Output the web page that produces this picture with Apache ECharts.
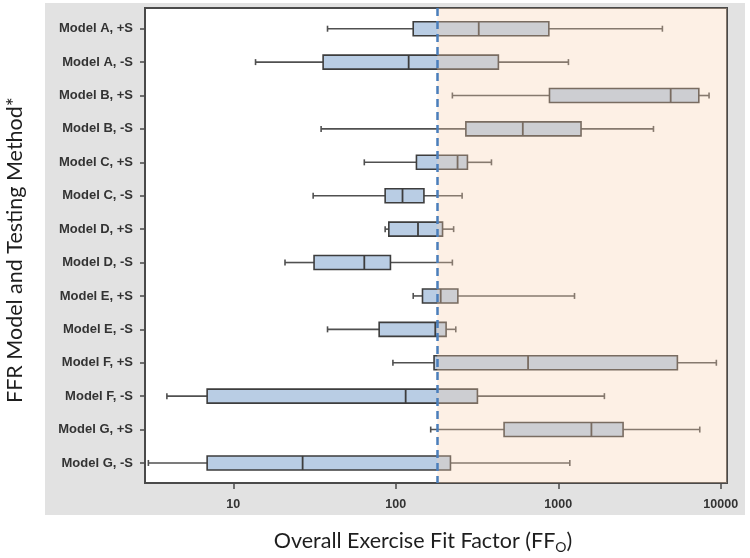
<!DOCTYPE html>
<html>
<head>
<meta charset="utf-8">
<script src="https://cdn.jsdelivr.net/npm/echarts@6/dist/echarts.min.js"></script>
<style>
  html, body { margin: 0; padding: 0; background: #ffffff; }
  #chart { width: 750px; height: 558px; }
</style>
</head>
<body>
<div id="chart"></div>
<script>
// ---- Data ----
const categories = [
  'Model A, +S', 'Model A, -S', 'Model B, +S', 'Model B, -S',
  'Model C, +S', 'Model C, -S', 'Model D, +S', 'Model D, -S',
  'Model E, +S', 'Model E, -S', 'Model F, +S', 'Model F, -S',
  'Model G, +S', 'Model G, -S'
];
const whiskerLow  = [38, 13.7, 223, 34.7, 64, 31, 86, 20.8, 128, 38, 96, 3.9, 164, 3.0];
const q1Values    = [128, 35.7, 883, 270, 134, 86, 90.6, 31.4, 146, 79, 172, 6.9, 464, 6.9];
const medianVals  = [324, 120, 4920, 605, 240, 110, 137, 64, 189, 175, 652, 115, 1600, 26.7];
const q3Values    = [875, 428, 7330, 1381, 276, 149, 194, 92.7, 241, 204, 5410, 318, 2506, 217];
const whiskerHigh = [4375, 1155, 8475, 3855, 388, 256, 227, 223, 1259, 234, 9400, 1923, 7430, 1178];
const xTickValues = [10, 100, 1000, 10000];
const threshold = 180;
const xMin = 2.86;
const xMax = 10930;

const boxData = categories.map((c, i) => [i, whiskerLow[i], q1Values[i], medianVals[i], q3Values[i], whiskerHigh[i]]);
const rowIndices = categories.map((c, i) => i);

const BOX_H = 14;
const CAP_H = 6;
const boxFill = '#b9cde4';
const boxStroke = '#3d3d3d';
const whiskerStroke = '#505050';

function renderBox(params, api) {
  const y = api.value(0);
  const pLow = api.coord([api.value(1), y]);
  const pQ1 = api.coord([api.value(2), y]);
  const pMed = api.coord([api.value(3), y]);
  const pQ3 = api.coord([api.value(4), y]);
  const pHigh = api.coord([api.value(5), y]);
  const cy = pQ1[1];
  const lw = { stroke: whiskerStroke, lineWidth: 1.6 };
  return {
    type: 'group',
    children: [
      { type: 'line', shape: { x1: pLow[0], y1: cy, x2: pQ1[0], y2: cy }, style: lw },
      { type: 'line', shape: { x1: pQ3[0], y1: cy, x2: pHigh[0], y2: cy }, style: lw },
      { type: 'line', shape: { x1: pLow[0], y1: cy - CAP_H / 2, x2: pLow[0], y2: cy + CAP_H / 2 }, style: lw },
      { type: 'line', shape: { x1: pHigh[0], y1: cy - CAP_H / 2, x2: pHigh[0], y2: cy + CAP_H / 2 }, style: lw },
      { type: 'rect', shape: { x: pQ1[0], y: cy - BOX_H / 2, width: pQ3[0] - pQ1[0], height: BOX_H },
        style: { fill: boxFill, stroke: boxStroke, lineWidth: 1.6 } },
      { type: 'line', shape: { x1: pMed[0], y1: cy - BOX_H / 2, x2: pMed[0], y2: cy + BOX_H / 2 },
        style: { stroke: boxStroke, lineWidth: 1.8 } }
    ]
  };
}

const chart = echarts.init(document.getElementById('chart'), null, { renderer: 'canvas' });
chart.setOption({
  animation: false,
  backgroundColor: '#ffffff',
  graphic: [
    { type: 'rect', z: -100, silent: true, shape: { x: 45, y: 3, width: 700, height: 512 }, style: { fill: '#e2e2e2' } },
    { type: 'text', silent: true, x: 15, y: 250, rotation: Math.PI / 2,
      style: { text: 'FFR Model and Testing Method*', fill: '#1e1e1e', font: '21.5px Lato', align: 'center', verticalAlign: 'middle' } },
    { type: 'text', silent: true, x: 423, y: 541,
      style: { text: '{a|Overall Exercise Fit Factor (FF}{s|O}{a|)}', align: 'center', verticalAlign: 'middle',
        rich: {
          a: { font: '21.5px Lato', fill: '#1e1e1e', color: '#1e1e1e', lineHeight: 26 },
          s: { font: '14px Lato', fill: '#1e1e1e', color: '#1e1e1e', lineHeight: 26, padding: [12, 0, 0, 0] }
        } } }
  ],
  grid: {
    left: 145, right: 23, top: 8, bottom: 75,
    show: true, backgroundColor: '#ffffff', borderColor: '#4a4a4a', borderWidth: 2
  },
  xAxis: {
    type: 'log', logBase: 10, min: xMin, max: xMax,
    splitLine: { show: false },
    axisLine: { show: false, onZero: false },
    axisTick: { show: true, length: 6, customValues: xTickValues, lineStyle: { color: '#4a4a4a', width: 1.5 } },
    axisLabel: { customValues: xTickValues, margin: 15, formatter: v => String(Math.round(v)),
      color: '#333', fontFamily: 'Liberation Sans', fontWeight: 'bold', fontSize: 12.5 },
    minorTick: { show: false }
  },
  yAxis: {
    type: 'value', inverse: true, min: -0.62, max: 13.6,
    splitLine: { show: false },
    axisLine: { show: false, onZero: false },
    axisTick: { show: true, length: 5, customValues: rowIndices, lineStyle: { color: '#4a4a4a', width: 1.5 } },
    axisLabel: { customValues: rowIndices, margin: 12, formatter: v => categories[Math.round(v)] || '',
      color: '#333', fontFamily: 'Liberation Sans', fontWeight: 'bold', fontSize: 13 }
  },
  series: [
    {
      type: 'custom', name: 'FFo', renderItem: renderBox, data: boxData,
      encode: { x: [1, 2, 3, 4, 5], y: 0 }, z: 2, silent: true
    },
    {
      type: 'line', name: 'overlay', data: [], z: 10, silent: true,
      markArea: {
        silent: true, z: 10,
        itemStyle: { color: 'rgba(248,207,175,0.32)' },
        label: { show: false },
        data: [[{ xAxis: threshold }, { xAxis: xMax }]]
      },
      markLine: {
        silent: true, symbol: 'none', z: 12,
        label: { show: false },
        lineStyle: { color: '#4a7ebb', width: 2.5, type: [8, 5] },
        data: [{ xAxis: threshold }]
      }
    }
  ]
});
</script>
</body>
</html>
